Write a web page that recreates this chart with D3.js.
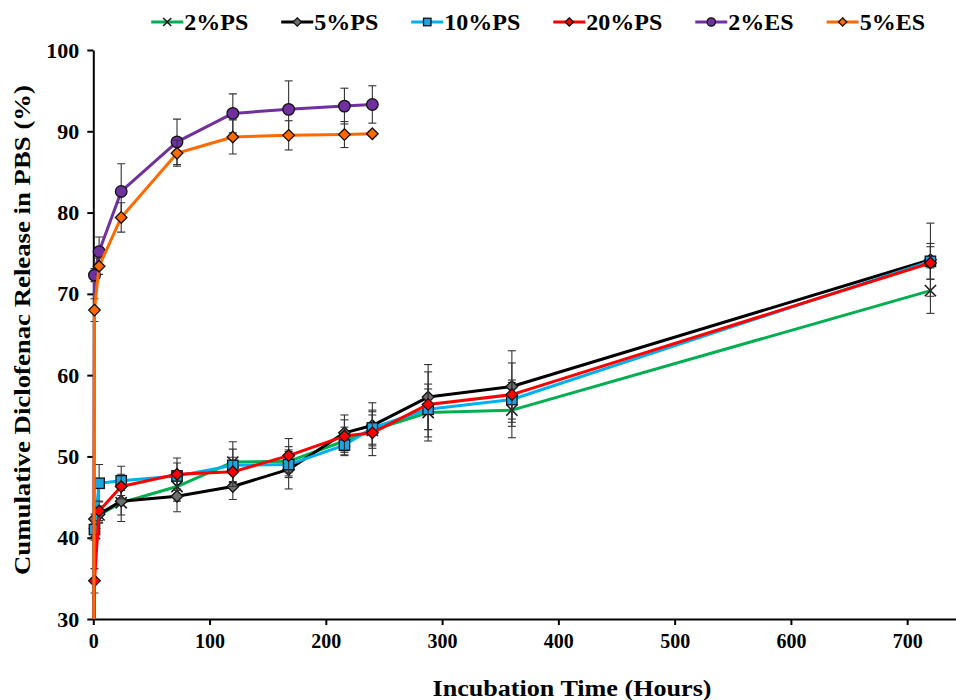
<!DOCTYPE html>
<html>
<head>
<meta charset="utf-8">
<script src="https://cdn.jsdelivr.net/npm/d3@7"></script>
<style>
  body { margin: 0; background: #fff; }
  text { font-family: "Liberation Serif", "Times New Roman", serif; }
</style>
</head>
<body>
<div id="chart"></div>
<script>
// ---- data ----
const psTimes = [0, 1, 5, 24, 72, 120, 168, 216, 240, 288, 360, 720];
const esTimes = [0, 1, 5, 24, 72, 120, 168, 216, 240];

const ps2 = [0, 40.5, 42.8, 44.3, 46.3, 49.3, 49.4, 51.9, 53.2, 55.4, 55.7, 70.4];
const ps2Err = [0, 0.8, 1.0, 1.5, 1.8, 2.5, 1.8, 1.7, 1.9, 3.5, 3.4, 2.8];
const ps5 = [0, 42.3, 42.9, 44.5, 45.1, 46.3, 48.4, 52.9, 53.8, 57.3, 58.6, 74.2];
const ps5Err = [0, 0.6, 1.0, 2.5, 1.9, 1.6, 2.4, 2.2, 2.8, 4.0, 4.4, 4.5];
const ps10 = [0, 41.0, 46.7, 47.0, 47.6, 48.9, 49.0, 51.4, 53.5, 55.8, 57.0, 74.0];
const ps10Err = [0, 1.0, 2.3, 1.8, 1.6, 2.0, 1.6, 1.3, 2.0, 2.5, 2.4, 2.2];
const ps20 = [0, 34.7, 43.3, 46.3, 47.8, 48.1, 50.1, 52.5, 52.9, 56.4, 57.6, 73.8];
const ps20Err = [0, 1.5, 1.2, 1.5, 2.0, 1.8, 2.1, 2.0, 2.8, 4.0, 3.9, 2.0];
const es2 = [0, 72.3, 75.2, 82.6, 88.7, 92.2, 92.7, 93.1, 93.3];
const es2Err = [0, 0.8, 1.8, 3.4, 2.8, 2.4, 3.5, 2.2, 2.3];
const es5 = [0, 68.0, 73.4, 79.4, 87.3, 89.3, 89.5, 89.6, 89.7];
const es5Err = [0, 1.4, 1.0, 1.8, 1.6, 2.1, 1.8, 1.6, 0.3];

const seriesNames = ["2%PS", "5%PS", "10%PS", "20%PS", "2%ES", "5%ES"];
const xTicks = [0, 100, 200, 300, 400, 500, 600, 700];
const yTicks = [30, 40, 50, 60, 70, 80, 90, 100];

// ---- layout ----
const W = 956, H = 700;
const plotLeft = 93.3, plotRight = 956, plotTop = 50, plotBottom = 619;

const series = [
    { name: seriesNames[0], t: psTimes, v: ps2, e: ps2Err, color: "#00b050", mk: "x", fill: "none" },
    { name: seriesNames[1], t: psTimes, v: ps5, e: ps5Err, color: "#000000", mk: "diamond", fill: "#6e6e6e" },
    { name: seriesNames[2], t: psTimes, v: ps10, e: ps10Err, color: "#00b0f0", mk: "square", fill: "#1ea2e2" },
    { name: seriesNames[3], t: psTimes, v: ps20, e: ps20Err, color: "#ff0000", mk: "diamond", fill: "#ff0000" },
    { name: seriesNames[4], t: esTimes, v: es2, e: es2Err, color: "#7030a0", mk: "circle", fill: "#7030a0" },
    { name: seriesNames[5], t: esTimes, v: es5, e: es5Err, color: "#ff6a00", mk: "diamond", fill: "#ff6a00" }
];

const svg = d3.select("#chart").append("svg")
    .attr("width", W)
    .attr("height", H);

const x = d3.scaleLinear().domain([0, 742]).range([plotLeft, plotRight]);
const y = d3.scaleLinear().domain([30, 100]).range([plotBottom, plotTop]);

// clip so the (0,0) starts run down to the axis and stop there
svg.append("clipPath").attr("id", "plotClip")
    .append("rect")
    .attr("x", plotLeft - 20).attr("y", 0)
    .attr("width", plotRight - plotLeft + 20).attr("height", plotBottom);

// ---- axes ----
const xAxis = svg.append("g")
    .attr("transform", `translate(0, ${plotBottom})`)
    .call(d3.axisBottom(x).tickValues(xTicks).tickSize(6).tickSizeOuter(0).tickPadding(9));

const yAxis = svg.append("g")
    .attr("transform", `translate(${plotLeft}, 0)`)
    .call(d3.axisLeft(y).tickValues(yTicks).tickSize(6).tickSizeOuter(0).tickPadding(8));

[xAxis, yAxis].forEach(ax => {
    ax.select(".domain").attr("stroke", "#000").attr("stroke-width", 2);
    ax.selectAll(".tick line").attr("stroke", "#000").attr("stroke-width", 2);
    ax.selectAll(".tick text")
        .attr("fill", "#000")
        .style("font-family", "'Liberation Serif', serif")
        .style("font-weight", "bold");
});
xAxis.selectAll(".tick text").style("font-size", "20px");
yAxis.selectAll(".tick text").style("font-size", "22px");

// ---- markers ----
function drawMarker(g, s, cx, cy, scale) {
    const k = scale || 1;
    if (s.mk === "circle") {
        g.append("circle").attr("cx", cx).attr("cy", cy).attr("r", 5.8 * k)
            .attr("fill", s.fill).attr("stroke", "#111").attr("stroke-width", 1.3);
    } else if (s.mk === "square") {
        const h = 5.2 * k;
        g.append("rect").attr("x", cx - h).attr("y", cy - h)
            .attr("width", 2 * h).attr("height", 2 * h)
            .attr("fill", s.fill).attr("stroke", "#111").attr("stroke-width", 1.3);
    } else if (s.mk === "diamond") {
        const h = 5.8 * k;
        g.append("path")
            .attr("d", `M${cx},${cy - h}L${cx + h},${cy}L${cx},${cy + h}L${cx - h},${cy}Z`)
            .attr("fill", s.fill).attr("stroke", "#111").attr("stroke-width", 1.3);
    } else {
        const h = 5.6 * k;
        g.append("path")
            .attr("d", `M${cx - h},${cy - h}L${cx + h},${cy + h}M${cx - h},${cy + h}L${cx + h},${cy - h}`)
            .attr("fill", "none").attr("stroke", "#1a1a1a").attr("stroke-width", 1.6);
    }
}

// ---- series ----
const plot = svg.append("g").attr("clip-path", "url(#plotClip)");

const line = d3.line()
    .x(d => x(d.t))
    .y(d => y(d.v));

series.forEach(s => {
    const pts = s.t.map((t, i) => ({ t, v: s.v[i], e: s.e[i] }));
    const g = plot.append("g");

    // error bars
    const eb = g.append("g").attr("stroke", "#333").attr("stroke-width", 1.1);
    pts.filter(d => d.e > 0).forEach(d => {
        const px = x(d.t), y1 = y(d.v + d.e), y2 = y(d.v - d.e);
        eb.append("line").attr("x1", px).attr("x2", px).attr("y1", y1).attr("y2", y2);
        eb.append("line").attr("x1", px - 4).attr("x2", px + 4).attr("y1", y1).attr("y2", y1);
        eb.append("line").attr("x1", px - 4).attr("x2", px + 4).attr("y1", y2).attr("y2", y2);
    });

    g.append("path")
        .datum(pts)
        .attr("d", line)
        .attr("fill", "none")
        .attr("stroke", s.color)
        .attr("stroke-width", 3)
        .attr("stroke-linejoin", "round");

    pts.filter(d => d.t > 0).forEach(d => drawMarker(g, s, x(d.t), y(d.v)));
});

// ---- legend ----
const legend = svg.append("g").attr("transform", "translate(0, 22)");
const items = series.map(s => {
    const g = legend.append("g");
    g.append("line").attr("x1", 0).attr("x2", 32).attr("y1", 0).attr("y2", 0)
        .attr("stroke", s.color).attr("stroke-width", 3);
    drawMarker(g, s, 16, 0, 0.72);
    const txt = g.append("text")
        .attr("x", 33).attr("y", 8)
        .style("font-weight", "bold")
        .style("font-size", "24px")
        .text(s.name);
    return { g, w: 33 + txt.node().getComputedTextLength() };
});
let cursor = 925 - d3.sum(items, d => d.w) - 33 * (items.length - 1);
items.forEach(it => {
    it.g.attr("transform", `translate(${cursor}, 0)`);
    cursor += it.w + 33;
});

// ---- axis titles ----
svg.append("text")
    .attr("x", (432 + 712) / 2)
    .attr("y", 696)
    .attr("text-anchor", "middle")
    .attr("textLength", 279)
    .attr("lengthAdjust", "spacingAndGlyphs")
    .style("font-size", "24px")
    .style("font-weight", "bold")
    .text("Incubation Time (Hours)");

svg.append("text")
    .attr("transform", `translate(30, 330) rotate(-90)`)
    .attr("text-anchor", "middle")
    .attr("textLength", 490)
    .attr("lengthAdjust", "spacingAndGlyphs")
    .style("font-size", "24px")
    .style("font-weight", "bold")
    .text("Cumulative Diclofenac Release in PBS (%)");
</script>
</body>
</html>
